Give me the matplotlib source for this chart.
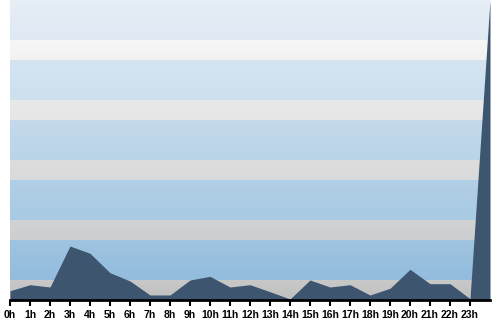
import numpy as np
import matplotlib
matplotlib.use("Agg")
import matplotlib.pyplot as plt
from matplotlib.colors import to_rgb

# hourly values (last point is the off-scale spike at the end)
hours = list(range(25))
values = [9.3, 15.3, 13, 54, 46.7, 27.3, 19, 5, 5, 20, 23.7, 13, 15.3, 8.3, 1,
          20, 13, 15.3, 5, 11.7, 30.7, 16.3, 16.3, 1.3, 300]
tick_labels = ["%dh" % h for h in range(24)]

# background bands, top to bottom: (top colour, bottom colour, height)
bands = [
    ("#e6eef6", "#dfe9f3", 40), ("#f6f6f6", "#f2f2f2", 20),
    ("#d5e4f1", "#cde0ee", 40), ("#e9e9e9", "#e6e6e6", 20),
    ("#c4d9eb", "#bad4e8", 40), ("#dddddd", "#d9dadb", 20),
    ("#b1cfe6", "#a8cae3", 40), ("#d1d2d3", "#cdcecf", 20),
    ("#9fc4e1", "#93bcdd", 40), ("#c8c8c8", "#c0c0c0", 20),
]

fig = plt.figure(figsize=(5, 3.2), dpi=100)
ax = fig.add_axes([10 / 500, 20 / 320, 480 / 500, 300 / 320])

rows = []
for top, bot, n in bands:
    a, b = np.array(to_rgb(top)), np.array(to_rgb(bot))
    for t in np.linspace(0, 1, n):
        rows.append(a + (b - a) * t)
bg = np.array(rows)[:, None, :]
ax.imshow(bg, extent=(0, 24, 0, 300), aspect="auto", interpolation="nearest", zorder=0)

ax.fill_between(hours, values, 0, color="#3e5570", lw=0, zorder=2)

ax.set_xlim(0, 24)
ax.set_ylim(0, 300)
ax.set_xticks(range(24))
ax.set_xticklabels(tick_labels, fontsize=7.5, fontweight="bold", family="Liberation Sans")
ax.tick_params(axis="x", length=4, width=1.5, pad=3, color="black")
ax.set_yticks([])
for s in ["top", "left", "right"]:
    ax.spines[s].set_visible(False)
ax.spines["bottom"].set_linewidth(2)
ax.spines["bottom"].set_zorder(3)

fig.savefig("out.png", dpi=100)
